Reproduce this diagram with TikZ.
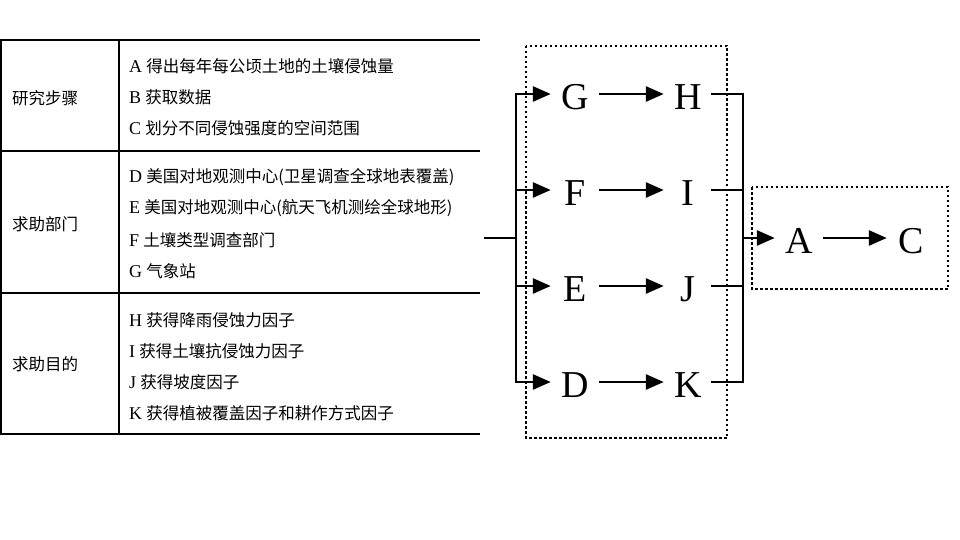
\documentclass[tikz,border=0pt]{standalone}
\usepackage{fontspec}
\setmainfont{Liberation Serif}
\newfontfamily\cjk{Noto Sans CJK SC}
\usetikzlibrary{arrows.meta}
\newcommand{\rowkey}[1]{{\fontsize{18}{18}\selectfont #1}\ }
\tikzstyle{none}=[]
\tikzstyle{ltr}=[inner sep=0pt,minimum width=48pt,text height=31pt,text depth=0pt,
  font=\fontsize{38}{38}\selectfont]
\tikzstyle{row}=[anchor=west,inner sep=0pt,font=\fontsize{16.5}{16.5}\selectfont]
\tikzstyle{grid}=[line width=1.5pt]
\tikzstyle{wire}=[line width=2.8pt,line cap=rect]
\tikzstyle{arr}=[line width=2.8pt,-{Triangle[length=18pt,width=15pt]}]
\tikzstyle{frame}=[line width=2.5pt,dash pattern=on 2.5pt off 2.5pt]

\begin{document}
\begin{tikzpicture}[x=1pt, y=-1pt]
    \useasboundingbox (0, 0) rectangle (960, 540);
    % table
    \draw [style=grid] (480, 40) -- (1, 40) -- (1, 434) -- (480, 434);
    \draw [style=grid] (1, 151) -- (480, 151);
    \draw [style=grid] (1, 293) -- (480, 293);
    \draw [style=grid] (119, 40) -- (119, 434);
    \node [style=row] (40) at (12, 98) {\cjk 研究步骤};
    \node [style=row] (41) at (12, 224) {\cjk 求助部门};
    \node [style=row] (42) at (12, 364) {\cjk 求助目的};
    \node [style=row] (43) at (129, 66) {\rowkey{A}{\cjk 得出每年每公顷土地的土壤侵蚀量}};
    \node [style=row] (44) at (129, 97) {\rowkey{B}{\cjk 获取数据}};
    \node [style=row] (45) at (129, 128) {\rowkey{C}{\cjk 划分不同侵蚀强度的空间范围}};
    \node [style=row] (46) at (129, 177) {\rowkey{D}{\cjk 美国对地观测中心(卫星调查全球地表覆盖)}};
    \node [style=row] (47) at (129, 208) {\rowkey{E}{\cjk 美国对地观测中心(航天飞机测绘全球地形)}};
    \node [style=row] (48) at (129, 240) {\rowkey{F}{\cjk 土壤类型调查部门}};
    \node [style=row] (49) at (129, 271) {\rowkey{G}{\cjk 气象站}};
    \node [style=row] (50) at (129, 320) {\rowkey{H}{\cjk 获得降雨侵蚀力因子}};
    \node [style=row] (51) at (129, 351) {\rowkey{I}{\cjk 获得土壤抗侵蚀力因子}};
    \node [style=row] (52) at (129, 382) {\rowkey{J}{\cjk 获得坡度因子}};
    \node [style=row] (53) at (129, 413) {\rowkey{K}{\cjk 获得植被覆盖因子和耕作方式因子}};
    % flow
    \draw [style=frame] (526, 46) rectangle (727, 438);
    \draw [style=frame] (752, 187) rectangle (948, 289);
    \node [style=ltr] (1) at (575, 94) {G};
    \node [style=ltr] (2) at (688, 94) {H};
    \node [style=ltr] (3) at (575, 190) {F};
    \node [style=ltr] (4) at (688, 190) {I};
    \node [style=ltr] (5) at (575, 286) {E};
    \node [style=ltr] (6) at (688, 286) {J};
    \node [style=ltr] (7) at (575, 382) {D};
    \node [style=ltr] (8) at (688, 382) {K};
    \node [style=ltr] (9) at (799, 238) {A};
    \node [style=ltr] (10) at (911, 238) {C};
    \node [style=none] (20) at (485, 238) {};
    \node [style=none] (21) at (516, 238) {};
    \node [style=none] (22) at (516, 94) {};
    \node [style=none] (23) at (516, 382) {};
    \node [style=none] (24) at (516, 190) {};
    \node [style=none] (25) at (516, 286) {};
    \node [style=none] (26) at (743, 94) {};
    \node [style=none] (27) at (743, 382) {};
    \node [style=none] (28) at (743, 238) {};
    \node [style=none] (29) at (743, 190) {};
    \node [style=none] (30) at (743, 286) {};
    \draw [style=wire] (20.center) to (21.center);
    \draw [style=wire] (22.center) to (23.center);
    \draw [style=arr] (22.center) to (1);
    \draw [style=arr] (24.center) to (3);
    \draw [style=arr] (25.center) to (5);
    \draw [style=arr] (23.center) to (7);
    \draw [style=arr] (1) to (2);
    \draw [style=arr] (3) to (4);
    \draw [style=arr] (5) to (6);
    \draw [style=arr] (7) to (8);
    \draw [style=wire] (2) to (26.center);
    \draw [style=wire] (4) to (29.center);
    \draw [style=wire] (6) to (30.center);
    \draw [style=wire] (8) to (27.center);
    \draw [style=wire] (26.center) to (27.center);
    \draw [style=arr] (28.center) to (9);
    \draw [style=arr] (9) to (10);
\end{tikzpicture}
\end{document}
